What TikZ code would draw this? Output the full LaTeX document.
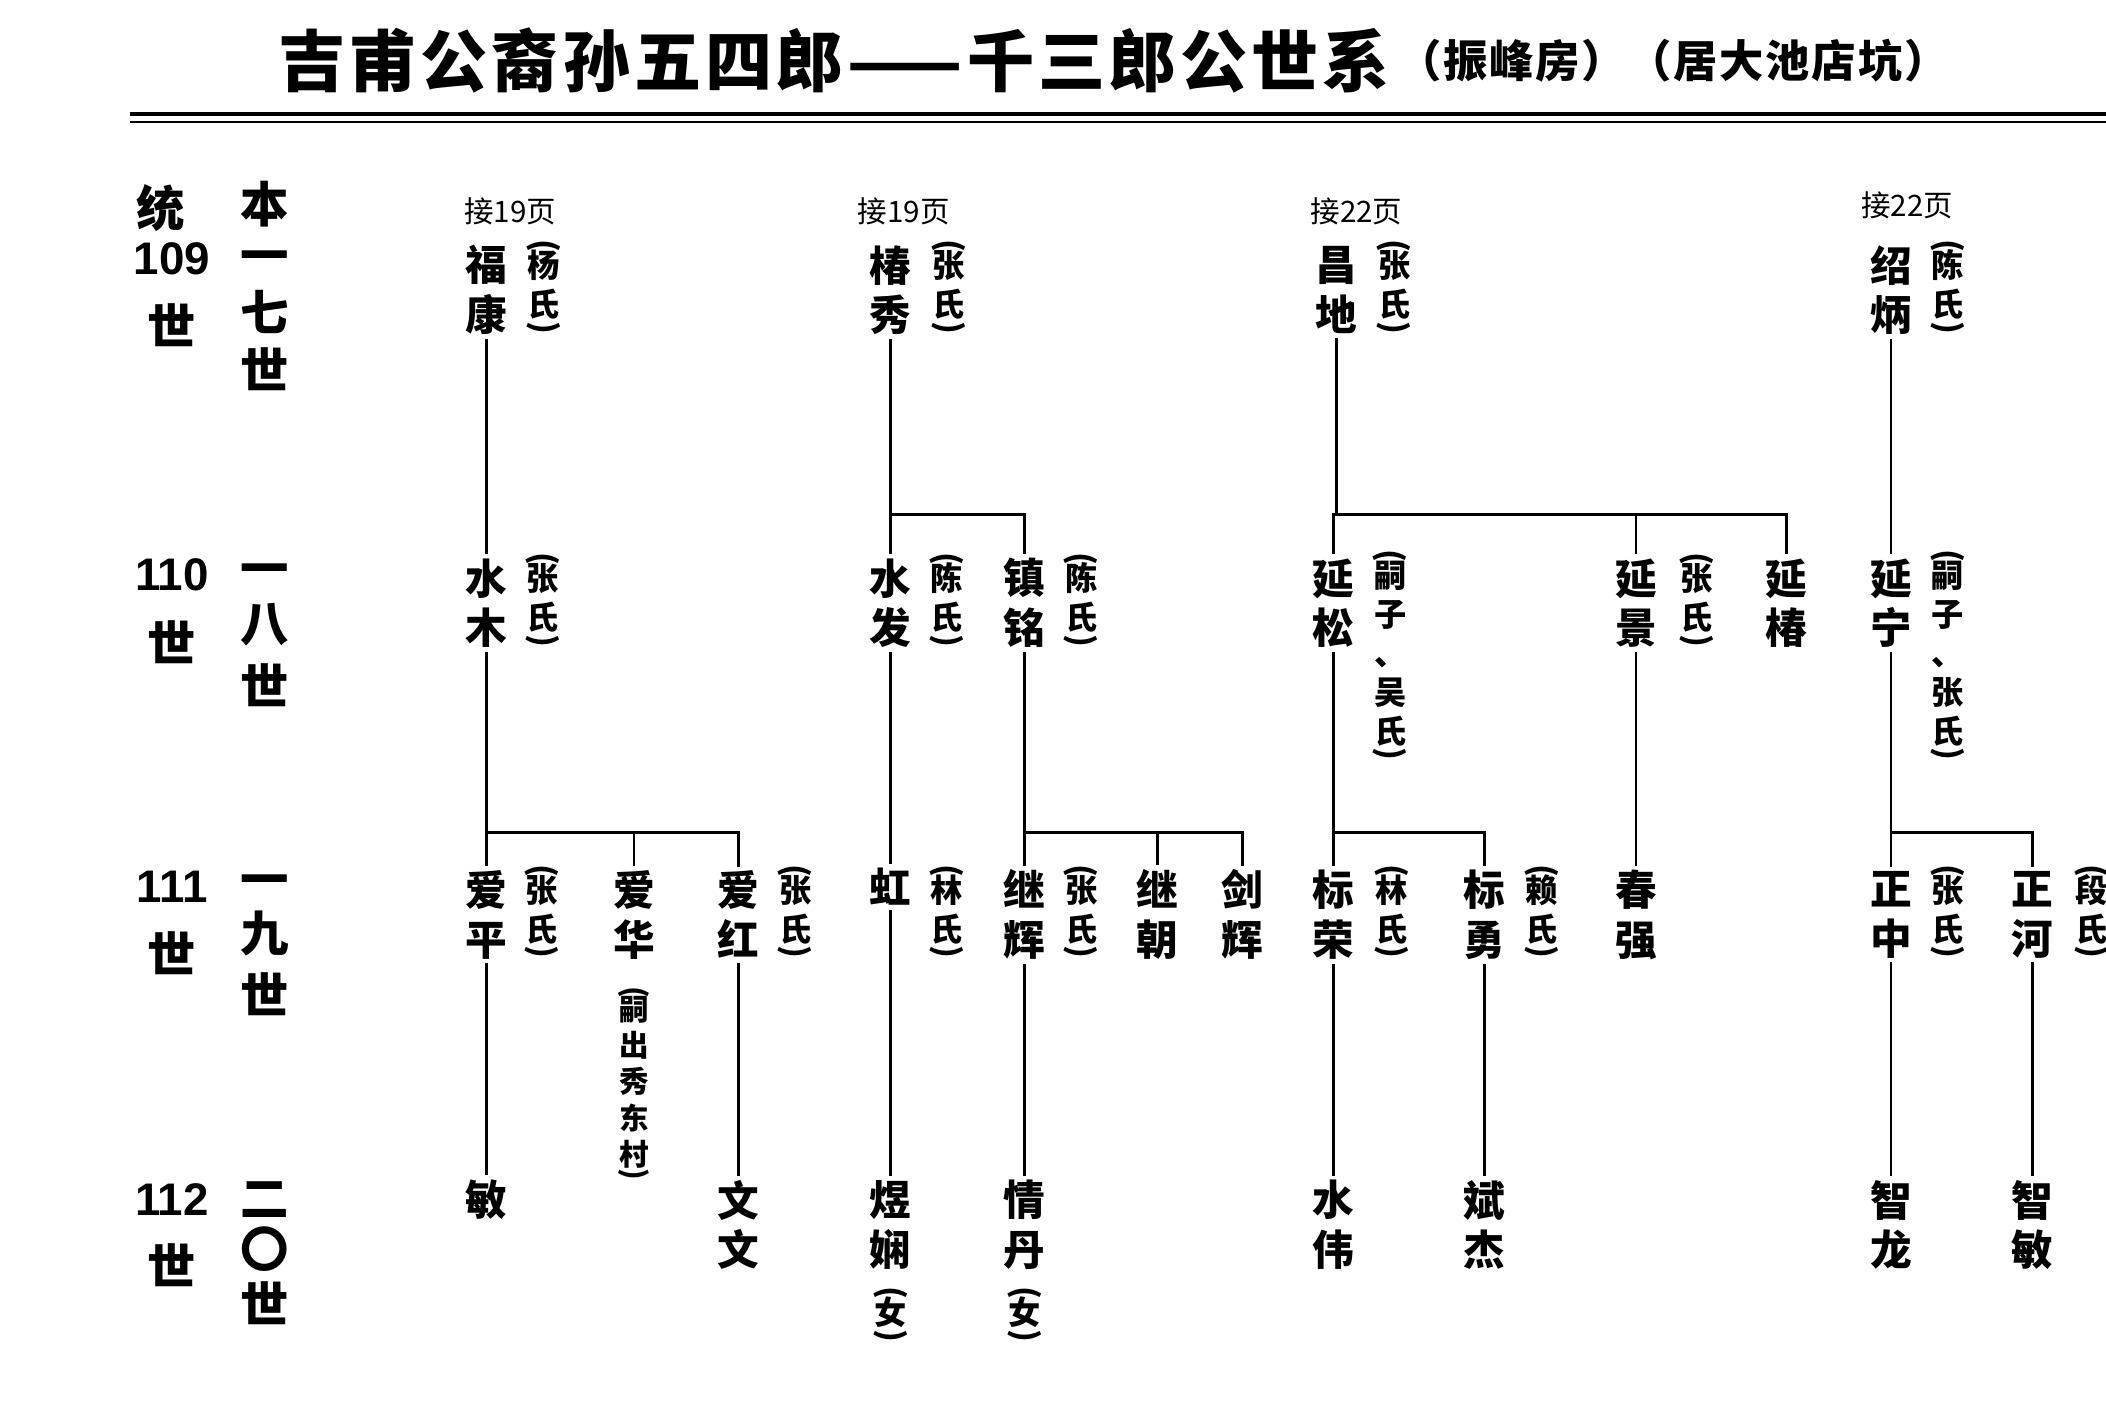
\documentclass[tikz,border=0pt]{standalone}
\usepackage{fontspec}
\usepackage{graphicx}
\newfontfamily\cjk{Noto Sans CJK SC}
\newfontfamily\cjkt{Noto Sans CJK SC}[LetterSpace=6]
\newfontfamily\cjks{Noto Sans CJK SC}[LetterSpace=4]
\newfontfamily\lsans{Liberation Sans}
\newcommand\pa{\rotatebox[origin=c]{-90}{(}}
\newcommand\pb{\rotatebox[origin=c]{-90}{)}}
\begin{document}
\begin{tikzpicture}[x=1pt,y=1pt,
  nm/.style={font=\cjk\bfseries\fontsize{31}{37}\selectfont,align=center,inner sep=3pt},
  sp/.style={font=\cjk\bfseries\fontsize{24}{29}\selectfont,align=center,inner sep=0pt},
  jie/.style={font=\cjk\fontsize{22}{22}\selectfont,inner sep=0pt},
  gl/.style={font=\cjk\bfseries\fontsize{36}{36}\selectfont,inner sep=0pt},
  gn/.style={font=\lsans\bfseries\fontsize{34}{34}\selectfont,inner sep=0pt},
  ln/.style={line width=2pt}]
\useasboundingbox (0,0) rectangle (1568,-1045);
% title
\node[font=\cjkt\bfseries\fontsize{50}{50}\selectfont,anchor=west,inner sep=0] (title) at (207,-45) {吉甫公裔孙五四郎——千三郎公世系};
\node[font=\cjks\bfseries\fontsize{33}{33}\selectfont,anchor=west,inner sep=0] (sub) at (1040,-45) {（振峰房）（居大池店坑）};
\draw[line width=3pt] (97,-85) -- (1568,-85);
\draw[line width=1.3pt] (97,-91) -- (1568,-91);
% generation labels
\node[gl] (t1) at (120,-155) {统};
\node[gn] (g109) at (128,-193) {109};
\node[gl] (s109) at (128,-242) {世};
\node[gl] (b1) at (197,-152) {本};
\node[gl] (b2) at (197,-195) {一};
\node[gl] (b3) at (197,-232) {七};
\node[gl] (b4) at (197,-275) {世};
\node[gn] (g110) at (128,-428) {110};
\node[gl] (s110) at (128,-478) {世};
\node[gl] (c2) at (197,-428) {一};
\node[gl] (c3) at (197,-465) {八};
\node[gl] (c4) at (197,-510) {世};
\node[gn] (g111) at (128,-660) {111};
\node[gl] (s111) at (128,-710) {世};
\node[gl] (d2) at (197,-660) {一};
\node[gl] (d3) at (197,-695) {九};
\node[gl] (d4) at (197,-740) {世};
\node[gn] (g112) at (128,-893) {112};
\node[gl] (s112) at (128,-942) {世};
\node[gl] (e2) at (197,-893) {二};
\node[gl] (e3) at (197,-930) {〇};
\node[gl] (e4) at (197,-970) {世};
% jie labels
\node[jie] (j1) at (380,-157) {接19页};
\node[jie] (j2) at (673,-157) {接19页};
\node[jie] (j3) at (1010,-157) {接22页};
\node[jie] (j4) at (1420,-153) {接22页};
% gen 109
\node[nm] (fk) at (362,-216) {福\\康};
\node[sp] (fks) at (405,-215) {\pa\\[-13pt]杨\\氏\\[-13pt]\pb};
\node[nm] (cx) at (663,-216) {椿\\秀};
\node[sp] (cxs) at (706,-215) {\pa\\[-13pt]张\\氏\\[-13pt]\pb};
\node[nm] (cd) at (995,-216) {昌\\地};
\node[sp] (cds) at (1038,-215) {\pa\\[-13pt]张\\氏\\[-13pt]\pb};
\node[nm] (sb) at (1408,-216) {绍\\炳};
\node[sp] (sbs) at (1450,-215) {\pa\\[-13pt]陈\\氏\\[-13pt]\pb};
% gen 110
\node[nm] (sm) at (362,-449) {水\\木};
\node[sp] (sms) at (404,-448) {\pa\\[-13pt]张\\氏\\[-13pt]\pb};
\node[nm] (sf) at (663,-449) {水\\发};
\node[sp] (sfs) at (705,-448) {\pa\\[-13pt]陈\\氏\\[-13pt]\pb};
\node[nm] (zm) at (763,-449) {镇\\铭};
\node[sp] (zms) at (805,-448) {\pa\\[-13pt]陈\\氏\\[-13pt]\pb};
\node[nm] (ys) at (993,-449) {延\\松};
\node[sp] (yss) at (1035,-489) {\pa\\[-13pt]嗣\\子\\、\\吴\\氏\\[-13pt]\pb};
\node[nm] (yj) at (1218,-449) {延\\景};
\node[sp] (yjs) at (1263,-448) {\pa\\[-13pt]张\\氏\\[-13pt]\pb};
\node[nm] (yc) at (1330,-449) {延\\椿};
\node[nm] (yn) at (1408,-449) {延\\宁};
\node[sp] (yns) at (1450,-489) {\pa\\[-13pt]嗣\\子\\、\\张\\氏\\[-13pt]\pb};
% gen 111
\node[nm] (ap) at (362,-681) {爱\\平};
\node[sp] (aps) at (403,-680) {\pa\\[-13pt]张\\氏\\[-13pt]\pb};
\node[nm] (ah) at (472,-681) {爱\\华};
\node[sp,font=\cjk\bfseries\fontsize{22}{27}\selectfont] (ahs) at (472,-808) {\pa\\[-13pt]嗣\\出\\秀\\东\\村\\[-13pt]\pb};
\node[nm] (aho) at (550,-681) {爱\\红};
\node[sp] (ahos) at (592,-680) {\pa\\[-13pt]张\\氏\\[-13pt]\pb};
\node[nm,anchor=north] (hong) at (663,-643) {虹};
\node[sp] (hongs) at (705,-680) {\pa\\[-13pt]林\\氏\\[-13pt]\pb};
\node[nm] (jh) at (763,-681) {继\\辉};
\node[sp] (jhs) at (805,-680) {\pa\\[-13pt]张\\氏\\[-13pt]\pb};
\node[nm] (jc) at (862,-681) {继\\朝};
\node[nm] (jianh) at (925,-681) {剑\\辉};
\node[nm] (br) at (993,-681) {标\\荣};
\node[sp] (brs) at (1036,-680) {\pa\\[-13pt]林\\氏\\[-13pt]\pb};
\node[nm] (by) at (1105,-681) {标\\勇};
\node[sp] (bys) at (1148,-680) {\pa\\[-13pt]赖\\氏\\[-13pt]\pb};
\node[nm] (cq) at (1218,-681) {春\\强};
\node[nm] (zz) at (1408,-681) {正\\中};
\node[sp] (zzs) at (1450,-680) {\pa\\[-13pt]张\\氏\\[-13pt]\pb};
\node[nm] (zh) at (1513,-681) {正\\河};
\node[sp] (zhs) at (1557,-680) {\pa\\[-13pt]段\\氏\\[-13pt]\pb};
% gen 112
\node[nm,anchor=north] (min) at (362,-875) {敏};
\node[nm] (ww) at (550,-912) {文\\文};
\node[nm] (yx) at (663,-912) {煜\\娴};
\node[sp] (yxs) at (663,-980) {\pa\\[-13pt]女\\[-13pt]\pb};
\node[nm] (qd) at (763,-912) {情\\丹};
\node[sp] (qds) at (763,-980) {\pa\\[-13pt]女\\[-13pt]\pb};
\node[nm] (sw) at (993,-912) {水\\伟};
\node[nm] (bj) at (1105,-912) {斌\\杰};
\node[nm] (zl) at (1408,-912) {智\\龙};
\node[nm] (zmin) at (1513,-912) {智\\敏};
% connectors
\begin{scope}[ln]
\draw (fk.south) -- (sm.north);
\draw (sm.south) -- (ap.north);
\draw (sm.south |- 0,-620) -| (ah.north);
\draw (sm.south |- 0,-620) -| (aho.north);
\draw (ap.south) -- (min.north);
\draw (aho.south) -- (ww.north);
\draw (cx.south) -- (cx.south |- 0,-383) -| (zm.north);
\draw (cx.south |- 0,-383) -- (sf.north);
\draw (sf.south) -- (hong.north);
\draw (zm.south) -- (jh.north);
\draw (zm.south |- 0,-620) -| (jc.north);
\draw (zm.south |- 0,-620) -| (jianh.north);
\draw (hong.south) -- (yx.north);
\draw (jh.south) -- (qd.north);
\draw (cd.south) -- (cd.south |- 0,-383) -| (yc.north);
\draw (cd.south |- 0,-383) -| (yj.north);
\draw (cd.south |- 0,-383) -| (ys.north);
\draw (ys.south) -- (br.north);
\draw (ys.south |- 0,-620) -| (by.north);
\draw (yj.south) -- (cq.north);
\draw (br.south) -- (sw.north);
\draw (by.south) -- (bj.north);
\draw (sb.south) -- (yn.north);
\draw (yn.south) -- (zz.north);
\draw (yn.south |- 0,-620) -| (zh.north);
\draw (zz.south) -- (zl.north);
\draw (zh.south) -- (zmin.north);
\end{scope}
\end{tikzpicture}
\end{document}
